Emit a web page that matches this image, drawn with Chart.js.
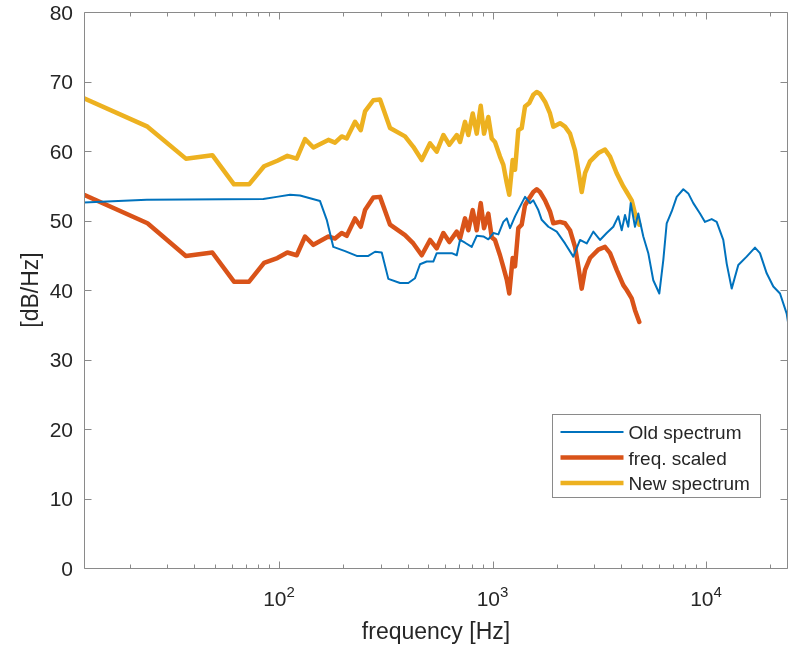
<!DOCTYPE html>
<html>
<head>
<meta charset="utf-8">
<script src="https://cdn.jsdelivr.net/npm/chart.js@4/dist/chart.umd.min.js"></script>
<style>
html,body{margin:0;padding:0;background:#fff;}
#wrap{width:789px;height:646px;position:relative;overflow:hidden;}
canvas{display:block;}
</style>
</head>
<body>
<div id="wrap"><canvas id="c" width="789" height="646"></canvas></div>
<script>
// ---------- data ----------
const seriesNames = ['Old spectrum', 'freq. scaled', 'New spectrum'];

const oldFreq = [12.2, 24.0, 84.4, 97.5, 112.6, 125.4, 139.7, 155.6, 167.3, 179.6, 203.8, 231.2, 262.0, 281.7, 302.7, 325.1, 368.8, 403.3, 433.5, 457.6, 491.7, 528.1, 547.8, 644.1, 679.8, 704.5, 743.5, 799.0, 843.4, 905.6, 955.7, 1009, 1065, 1124, 1166, 1208, 1275, 1345, 1420, 1498, 1553, 1639, 1700, 1826, 1999, 2186, 2390, 2570, 2762, 2966, 3188, 3427, 3680, 3883, 4029, 4175, 4325, 4440, 4650, 4818, 5086, 5367, 5664, 6045, 6310, 6546, 6908, 7292, 7830, 8263, 8720, 9373, 9893, 10634, 11222, 12050, 12503, 13196, 14170, 15506, 16961, 17900, 19246, 20670, 22220, 23880, 24220];
const oldLevel = [52.6, 53.0, 53.1, 53.4, 53.7, 53.6, 53.2, 52.8, 50.1, 46.2, 45.6, 44.9, 44.9, 45.5, 45.4, 41.6, 41.0, 41.0, 41.7, 43.7, 44.1, 44.1, 45.3, 45.3, 45.0, 47.2, 46.8, 46.2, 47.8, 47.7, 47.3, 48.2, 48.0, 49.8, 50.3, 48.9, 50.6, 52.0, 53.4, 52.5, 52.9, 51.5, 50.1, 49.1, 48.4, 46.7, 44.8, 47.2, 46.7, 48.4, 47.2, 48.2, 49.1, 50.6, 48.6, 50.8, 49.1, 52.5, 49.1, 51.0, 47.7, 45.3, 41.4, 39.5, 44.3, 49.6, 51.3, 53.4, 54.5, 53.9, 52.5, 51.0, 49.8, 50.2, 49.8, 47.2, 43.8, 40.2, 43.6, 44.8, 46.1, 45.3, 42.4, 40.5, 39.5, 36.6, 35.4];

const newFreq = [12.2, 24.2, 36.6, 48.7, 61.5, 72.4, 85.1, 98.2, 109.4, 121.0, 132.4, 144.8, 170.2, 182.9, 196.6, 207.5, 227.0, 241.4, 252.8, 276.5, 297.2, 331.1, 389.2, 425.6, 466.1, 509.7, 547.8, 588.6, 627.9, 679.8, 704.5, 743.5, 770.5, 807.9, 843.4, 880.6, 912.5, 955.7, 991.5, 1027, 1084, 1124, 1166, 1198, 1243, 1275, 1321, 1370, 1420, 1487, 1553, 1611, 1669, 1762, 1859, 1927, 2071, 2186, 2307, 2435, 2523, 2617, 2713, 2862, 3131, 3365, 3552, 3816, 4099, 4252, 4487, 4650, 4871];
const scaledLevel = [53.7, 49.6, 44.9, 45.4, 41.2, 41.2, 43.9, 44.6, 45.4, 45.0, 47.7, 46.5, 47.7, 47.4, 48.2, 47.8, 50.3, 49.1, 51.5, 53.3, 53.4, 49.4, 47.9, 46.7, 45.0, 47.2, 46.0, 48.2, 46.9, 48.4, 47.4, 50.3, 48.6, 51.5, 48.6, 52.5, 48.9, 51.0, 47.6, 47.2, 45.0, 43.3, 41.5, 39.5, 44.6, 43.4, 48.9, 49.4, 52.2, 53.2, 54.1, 54.5, 54.1, 52.9, 51.3, 49.6, 49.8, 49.6, 48.6, 46.2, 43.4, 40.2, 42.9, 44.6, 45.8, 46.2, 45.3, 42.9, 40.7, 40.0, 38.8, 37.1, 35.4];
const newLevel = [67.6, 63.5, 58.9, 59.4, 55.2, 55.2, 57.8, 58.6, 59.3, 58.9, 61.7, 60.5, 61.6, 61.2, 62.1, 61.8, 64.2, 63.0, 65.7, 67.3, 67.4, 63.3, 62.1, 60.6, 58.7, 61.1, 59.9, 62.3, 60.9, 62.3, 61.3, 64.2, 62.3, 65.4, 62.5, 66.5, 62.5, 64.9, 61.8, 61.3, 59.2, 58.0, 55.4, 53.7, 58.7, 57.3, 63.0, 63.3, 66.4, 66.9, 68.1, 68.5, 68.2, 67.1, 65.4, 63.5, 64.0, 63.5, 62.5, 60.1, 57.3, 54.1, 56.8, 58.5, 59.7, 60.2, 59.2, 56.8, 54.9, 54.1, 52.9, 51.0, 49.4];

const yTicks = [0, 10, 20, 30, 40, 50, 60, 70, 80];
const xMajorTicks = [100, 1000, 10000];
const xMajorExp = ['2', '3', '4'];
const xMinorTicks = [20, 30, 40, 50, 60, 70, 80, 90, 200, 300, 400, 500, 600, 700, 800, 900, 2000, 3000, 4000, 5000, 6000, 7000, 8000, 9000, 20000];
const xRange = [12.2, 24220];
const yRange = [0, 80];
const xTitle = 'frequency [Hz]';
const yTitle = '[dB/Hz]';

// ---------- helpers ----------
function zip(xs, ys) { return xs.map((v, i) => ({ x: v, y: ys[i] })); }

const FONT = '"Liberation Sans", Arial, Helvetica, sans-serif';
const AXIS_COLOR = '#8a8a8a';
const TEXT_COLOR = '#262626';

const matlabAxes = {
  id: 'matlabAxes',
  afterDraw(chart) {
    const { ctx, chartArea: a, scales } = chart;
    const xs = scales.x, ys = scales.y;
    const L = Math.round(a.left) + 0.5, R = Math.round(a.right) - 0.5;
    const T = Math.round(a.top) + 0.5, B = Math.round(a.bottom) + 0.5;
    ctx.save();
    ctx.strokeStyle = AXIS_COLOR;
    ctx.lineWidth = 1;
    ctx.beginPath();
    ctx.rect(L, T, R - L, B - T);
    ctx.stroke();

    // y ticks (inward, both sides)
    ctx.beginPath();
    yTicks.forEach(v => {
      const p = Math.round(ys.getPixelForValue(v)) + 0.5;
      ctx.moveTo(L, p); ctx.lineTo(L + 7, p);
      ctx.moveTo(R, p); ctx.lineTo(R - 7, p);
    });
    // x major ticks
    xMajorTicks.forEach(v => {
      const p = Math.round(xs.getPixelForValue(v)) + 0.5;
      ctx.moveTo(p, B); ctx.lineTo(p, B - 7);
      ctx.moveTo(p, T); ctx.lineTo(p, T + 7);
    });
    // x minor ticks
    xMinorTicks.forEach(v => {
      const p = Math.round(xs.getPixelForValue(v)) + 0.5;
      ctx.moveTo(p, B); ctx.lineTo(p, B - 4);
      ctx.moveTo(p, T); ctx.lineTo(p, T + 4);
    });
    ctx.stroke();

    // y tick labels
    ctx.fillStyle = TEXT_COLOR;
    ctx.font = '21px ' + FONT;
    ctx.textAlign = 'right';
    ctx.textBaseline = 'alphabetic';
    yTicks.forEach(v => {
      const p = ys.getPixelForValue(v);
      ctx.fillText(String(v), a.left - 11, p + 7.5);
    });

    // x tick labels: 10 with superscript exponent
    xMajorTicks.forEach((v, i) => {
      const p = xs.getPixelForValue(v);
      ctx.font = '21px ' + FONT;
      const wBase = ctx.measureText('10').width;
      ctx.font = '15px ' + FONT;
      const wExp = ctx.measureText(xMajorExp[i]).width;
      const start = p - (wBase + wExp) / 2;
      ctx.textAlign = 'left';
      ctx.font = '21px ' + FONT;
      ctx.fillText('10', start, a.bottom + 38);
      ctx.font = '15px ' + FONT;
      ctx.fillText(xMajorExp[i], start + wBase, a.bottom + 29);
    });

    // axis titles
    ctx.font = '23px ' + FONT;
    ctx.textAlign = 'center';
    ctx.fillText(xTitle, (a.left + a.right) / 2, a.bottom + 71);
    ctx.save();
    ctx.translate(a.left - 46, (a.top + a.bottom) / 2);
    ctx.rotate(-Math.PI / 2);
    ctx.fillText(yTitle, 0, 0);
    ctx.restore();

    // legend
    const lx = Math.round(a.right - 236) + 0.5, ly = Math.round(a.bottom - 154) + 0.5;
    const lw = 208, lh = 83;
    ctx.fillStyle = '#ffffff';
    ctx.fillRect(lx, ly, lw, lh);
    ctx.strokeStyle = AXIS_COLOR;
    ctx.strokeRect(lx, ly, lw, lh);
    chart.data.datasets.forEach((ds, i) => {
      const cy = ly + 17.5 + i * 25.5;
      ctx.strokeStyle = ds.borderColor;
      ctx.lineWidth = ds.borderWidth;
      ctx.beginPath();
      ctx.moveTo(lx + 8, cy); ctx.lineTo(lx + 71, cy);
      ctx.stroke();
      ctx.fillStyle = TEXT_COLOR;
      ctx.font = '19px ' + FONT;
      ctx.textAlign = 'left';
      ctx.textBaseline = 'alphabetic';
      ctx.fillText(ds.label, lx + 76, cy + 7);
    });
    ctx.restore();
  }
};

new Chart(document.getElementById('c').getContext('2d'), {
  type: 'line',
  data: {
    datasets: [
      { label: seriesNames[0], data: zip(oldFreq, oldLevel), borderColor: '#0072BD', borderWidth: 2 },
      { label: seriesNames[1], data: zip(newFreq, scaledLevel), borderColor: '#D95319', borderWidth: 4.5 },
      { label: seriesNames[2], data: zip(newFreq, newLevel), borderColor: '#EDB120', borderWidth: 4.5 }
    ]
  },
  options: {
    responsive: false,
    animation: false,
    devicePixelRatio: 1,
    events: [],
    layout: { padding: { left: 84, right: 1, top: 12, bottom: 78 } },
    elements: {
      point: { radius: 0 },
      line: { tension: 0, fill: false, borderJoinStyle: 'round', borderCapStyle: 'round' }
    },
    plugins: { legend: { display: false }, tooltip: { enabled: false } },
    scales: {
      x: { type: 'logarithmic', min: xRange[0], max: xRange[1], display: false },
      y: { type: 'linear', min: yRange[0], max: yRange[1], display: false }
    }
  },
  plugins: [matlabAxes]
});
</script>
</body>
</html>
